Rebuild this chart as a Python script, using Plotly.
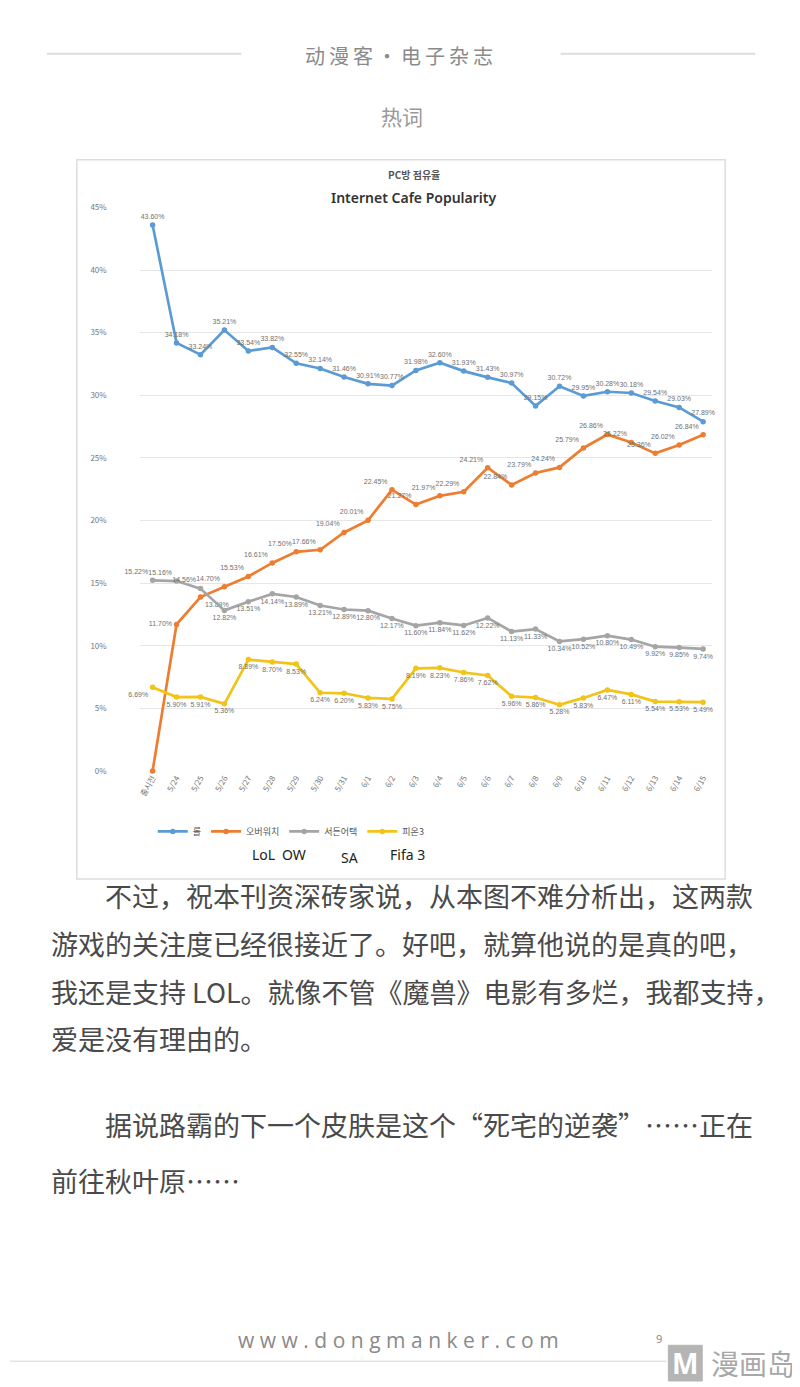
import plotly.graph_objects as go

# ---------------- data ----------------
categories = ["출시전", "5/24", "5/25", "5/26", "5/27", "5/28", "5/29", "5/30", "5/31",
              "6/1", "6/2", "6/3", "6/4", "6/5", "6/6", "6/7", "6/8", "6/9", "6/10",
              "6/11", "6/12", "6/13", "6/14", "6/15"]
lol = [43.60, 34.18, 33.24, 35.21, 33.54, 33.82, 32.55, 32.14, 31.46, 30.91, 30.77, 31.98,
       32.60, 31.93, 31.43, 30.97, 29.15, 30.72, 29.95, 30.28, 30.18, 29.54, 29.03, 27.89]
overwatch = [0.00, 11.70, 13.89, 14.70, 15.53, 16.61, 17.50, 17.66, 19.04, 20.01, 22.45, 21.27,
             21.97, 22.29, 24.21, 22.84, 23.79, 24.24, 25.79, 26.86, 26.22, 25.36, 26.02, 26.84]
sudden_attack = [15.22, 15.16, 14.56, 12.82, 13.51, 14.14, 13.89, 13.21, 12.89, 12.80, 12.17, 11.60,
                 11.84, 11.62, 12.22, 11.13, 11.33, 10.34, 10.52, 10.80, 10.49, 9.92, 9.85, 9.74]
fifa3 = [6.69, 5.90, 5.91, 5.36, 8.89, 8.70, 8.53, 6.24, 6.20, 5.83, 5.75, 8.19,
         8.23, 7.86, 7.62, 5.96, 5.86, 5.28, 5.83, 6.47, 6.11, 5.54, 5.53, 5.49]
series_names = ["롤", "오버워치", "서든어택", "피온3"]
y_ticks = [0, 5, 10, 15, 20, 25, 30, 35, 40, 45]
y_tick_labels = ["0%", "5%", "10%", "15%", "20%", "25%", "30%", "35%", "40%", "45%"]

# the page body has an 8px default margin: place the figure so it fills the rest of the window
OFF = 8
W, H = 800 - OFF, 1387 - OFF


def px(x):
    return (x - OFF) / W


def py(y):
    return 1 - (y - OFF) / H


def labels(vals):
    return [f"{v:.2f}%" if v > 0 else "" for v in vals]


fig = go.Figure()
colors = ["#5b9bd5", "#ed7d31", "#a5a5a5", "#f2c318"]
positions = [
    "top center",
    ["top left", "middle left", "bottom right"] + ["top left"] * 21,
    ["top left"] * 3 + ["bottom center"] * 21,
    ["bottom left"] + ["bottom center"] * 23,
]
for name, vals, col, pos in zip(series_names, [lol, overwatch, sudden_attack, fifa3], colors, positions):
    fig.add_trace(go.Scatter(
        x=list(range(len(categories))), y=vals, name=name,
        mode="lines+markers+text",
        line=dict(color=col, width=2.7),
        marker=dict(color=col, size=5.5),
        text=labels(vals), textposition=pos,
        textfont=dict(size=7, color="#707070", family="Liberation Sans"),
        cliponaxis=False,
    ))

fig.update_layout(
    width=W, height=H,
    margin=dict(l=0, r=0, t=0, b=0),
    paper_bgcolor="white", plot_bgcolor="white",
    font=dict(family="Noto Sans CJK KR, Noto Sans", color="#666666"),
    showlegend=True,
    legend=dict(orientation="h", x=px(290), xanchor="center", y=py(832), yanchor="middle",
                font=dict(size=9, color="#555555"), itemwidth=30, bgcolor="rgba(0,0,0,0)",
                tracegroupgap=0),
    xaxis=dict(domain=[px(138), px(712)], range=[-0.54, 23.38],
               tickmode="array", tickvals=list(range(len(categories))), ticktext=categories,
               tickangle=-60, tickfont=dict(size=8, color="#777777"),
               showgrid=False, zeroline=False, showline=False, ticks=""),
    yaxis=dict(domain=[py(771), py(203)], range=[0, 45],
               tickmode="array", tickvals=y_ticks, ticktext=y_tick_labels,
               tickfont=dict(size=8, color="#777777"),
               showgrid=True, gridcolor="#e6e6e6", gridwidth=1,
               zeroline=False, showline=False, ticks="", ticklabelstandoff=32),
)

shapes = [
    dict(type="rect", xref="paper", yref="paper", x0=px(75), x1=px(725), y0=py(880), y1=py(155),
         line=dict(color="#dddddd", width=1.5), fillcolor="rgba(0,0,0,0)", layer="below"),
    dict(type="line", xref="paper", yref="paper", x0=px(45), x1=px(240), y0=py(48), y1=py(48),
         line=dict(color="#dddddd", width=2)),
    dict(type="line", xref="paper", yref="paper", x0=px(560), x1=px(755), y0=py(48), y1=py(48),
         line=dict(color="#dddddd", width=2)),
    dict(type="line", xref="paper", yref="paper", x0=px(8), x1=px(666), y0=py(1366), y1=py(1366),
         line=dict(color="#e3e3e3", width=1.5)),
    dict(type="rect", xref="paper", yref="paper", x0=px(668), x1=px(702), y0=py(1386), y1=py(1350),
         line=dict(color="#b5b5b5", width=1), fillcolor="#b5b5b5"),
]
fig.update_layout(shapes=shapes)

cjk = "Noto Sans CJK SC"
ann = []


def add(text, x, y, size, color, family=cjk, xanchor="center", weight="normal"):
    ann.append(dict(text=text, x=px(x), y=py(y), xref="paper", yref="paper", showarrow=False,
                    xanchor=xanchor, yanchor="middle",
                    font=dict(size=size, color=color, family=family, weight=weight)))


add('<span style="letter-spacing:4px">动漫客·电子杂志</span>', 400, 50, 20, "#8a8a8a")
add("热词", 401, 111, 21, "#999999")
add("PC방 점유율", 413, 170, 10, "#555555", family="Noto Sans CJK KR", weight=600)
add("Internet Cafe Popularity", 413, 193, 14, "#333333", family="Noto Sans", weight=600)
# handwritten legend annotations
add("LoL", 262, 855, 14, "#222222", family="Noto Sans")
add("OW", 293, 855, 14, "#222222", family="Noto Sans")
add("SA", 348, 858, 14, "#222222", family="Noto Sans")
add("Fifa 3", 407, 855, 14, "#222222", family="Noto Sans")

body = [
    ("　　不过，祝本刊资深砖家说，从本图不难分析出，这两款", 897),
    ("游戏的关注度已经很接近了。好吧，就算他说的是真的吧，", 945),
    ("我还是支持 LOL。就像不管《魔兽》电影有多烂，我都支持，", 993),
    ("爱是没有理由的。", 1041),
    ("　　据说路霸的下一个皮肤是这个“死宅的逆袭”……正在", 1127),
    ("前往秋叶原……", 1184),
]
for t, y in body:
    add(t, 47, y, 27, "#4a4a4a", xanchor="left")

add('<span style="letter-spacing:5.5px">www.dongmanker.com</span>', 400, 1345, 21, "#8a8a8a",
    family="Open Sans")
add("9", 659, 1343, 11, "#888888", family="Noto Sans")
add("<b>M</b>", 685, 1368, 28, "white", family="Noto Sans")
add("漫画岛", 797, 1368, 28, "#a8a8a8", xanchor="right")
fig.update_layout(annotations=ann)

fig.write_html("out.html")
